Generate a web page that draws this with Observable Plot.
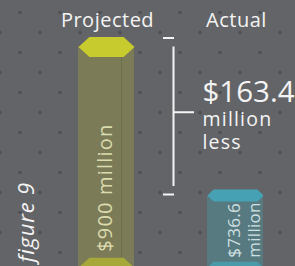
<!DOCTYPE html>
<html>
<head>
<meta charset="utf-8">
<script src="https://cdn.jsdelivr.net/npm/d3@7"></script>
<script src="https://cdn.jsdelivr.net/npm/@observablehq/plot@0.6"></script>
<style>
  html, body { margin: 0; padding: 0; background: #636467; }
  #chart svg {
    display: block;
    overflow: hidden;
    background-color: #636467 !important;
    background-image:
      radial-gradient(circle at 20px 12.5px, #505155 1.5px, rgba(0,0,0,0) 2.1px),
      radial-gradient(circle at 20px 20px, #505155 1.5px, rgba(0,0,0,0) 2.1px) !important;
    background-size: 40px 40px, 40px 40px;
    background-position: 0 0, -20px 12.5px;
  }
</style>
</head>
<body>
<div id="chart"></div>
<script>
// ---- data ----
const categories = ["Projected", "Actual"];
const values = [900, 736.6];               // $ millions
const baseValue = 657;                     // truncated floor of the drawn columns
const valueLabels = ["$900 million", "$736.6\nmillion"];
const differenceUnit = "million\nless";
const figureLabel = "figure 9";

// ---- styles ----
const bodyColor = {Projected: "#7b7b58", Actual: "#577a81"};
const topColor = {Projected: "#c8cb2e", Actual: "#45a1b3"};
const bottomColor = {Projected: "#a6a93a", Actual: "#4a9aa9"};
const labelColor = {Projected: "#dcdcae", Actual: "#cfe0e2"};
const font = "Open Sans, Lato, sans-serif";

const data = categories.map((c, i) => ({category: c, value: values[i], base: baseValue, label: valueLabels[i]}));
const difference = values[0] - values[1];
const mid = (values[0] + values[1]) / 2;
const first = categories[0];

function hex(edge, half) {
  return {
    draw(ctx, size) {
      const r = Math.sqrt(size / Math.PI), e = r * edge, h = r * half;
      ctx.moveTo(-r, 0); ctx.lineTo(-r + e, -h); ctx.lineTo(r - e, -h);
      ctx.lineTo(r, 0); ctx.lineTo(r - e, h); ctx.lineTo(-r + e, h); ctx.closePath();
    }
  };
}
const hexTall = hex(0.39, 0.357);
const hexFlat = hex(0.214, 0.214);
const isP = d => d.category === "Projected";
const isA = d => d.category === "Actual";
const white = "#f4f4f4";

const chart = Plot.plot({
  width: 295,
  height: 266,
  margin: 0,
  style: {fontFamily: font, overflow: "hidden"},
  x: {type: "band", domain: categories, range: [77, 263], paddingInner: 0.5692, paddingOuter: 0, axis: null},
  y: {domain: [values[1], values[0]], range: [195, 46.5], axis: null},
  color: {type: "identity"},
  marks: [
    Plot.barY(data, {x: "category", y1: "base", y2: "value", fill: d => bodyColor[d.category]}),
    Plot.ruleX(data, {filter: isP, x: "category", y1: "base", y2: "value", dx: 15, stroke: "#5f5f45", strokeOpacity: 0.5, strokeWidth: 1}),
    Plot.dot(data, {filter: isP, x: "category", y: "base", r: 28, symbol: hexTall, fill: d => bottomColor[d.category], stroke: null}),
    Plot.dot(data, {filter: isA, x: "category", y: "base", r: 28, symbol: hexFlat, fill: d => bottomColor[d.category], stroke: null}),
    Plot.dot(data, {filter: isP, x: "category", y: "value", r: 28, symbol: hexTall, fill: d => topColor[d.category], stroke: null}),
    Plot.dot(data, {filter: isA, x: "category", y: "value", r: 28, symbol: hexFlat, fill: d => topColor[d.category], stroke: null}),
    Plot.text(data, {filter: isP, x: "category", y: "base", text: "label", rotate: -90, textAnchor: "start", lineAnchor: "middle", dy: -16, dx: -1, fontSize: 20, fill: d => labelColor[d.category]}),
    Plot.text(data, {filter: isA, x: "category", y: "base", text: "label", rotate: -90, textAnchor: "start", lineAnchor: "middle", lineHeight: 1.15, dy: -10, dx: 8, fontSize: 17, fill: d => labelColor[d.category]}),
    Plot.text(categories, {x: d => d, frameAnchor: "top", lineAnchor: "bottom", dy: 26, dx: 1, fontSize: 20, fill: white}),
    Plot.ruleX([first], {x: d => d, y1: values[1], y2: values[0], dx: 67, insetTop: -9, stroke: white, strokeWidth: 2}),
    Plot.tickY([values[0]], {x: () => first, y: d => d, dx: 85, dy: -9, insetRight: 45, stroke: white, strokeWidth: 2}),
    Plot.tickY([values[1]], {x: () => first, y: d => d, dx: 85, dy: -1, insetRight: 45, stroke: white, strokeWidth: 2}),
    Plot.tickY([mid], {x: () => first, y: d => d, dx: 95, dy: -9, insetRight: 35, stroke: white, strokeWidth: 2}),
    Plot.text([difference], {x: () => first, y: () => mid, text: d => "$" + d.toFixed(1), dx: 96, dy: -19.5, textAnchor: "start", lineAnchor: "bottom", fontSize: 29.5, fill: white}),
    Plot.text([differenceUnit], {x: () => first, y: () => mid, text: d => d, dx: 96, dy: 27.25, textAnchor: "start", lineAnchor: "bottom", lineHeight: 1.18, fontSize: 19.5, fill: white}),
    Plot.text([figureLabel], {frameAnchor: "bottom-left", text: d => d, rotate: -90, textAnchor: "start", lineAnchor: "middle", dx: 26, dy: -4, fontSize: 22, fontStyle: "italic", fill: white})
  ]
});

// letter spacing to approximate the wide display face of the original
const spacing = new Map([
  ["Projected", "0.5px"], ["Actual", "0.5px"],
  [valueLabels[0], "1.2px"], [valueLabels[1].replace("\n", ""), "0.3px"],
  [differenceUnit.replace("\n", ""), "1.2px"], [figureLabel, "0.8px"]
]);
d3.select(chart).selectAll("text").each(function () {
  const s = spacing.get(this.textContent);
  if (s) this.style.letterSpacing = s;
});
document.getElementById("chart").appendChild(chart);
</script>
</body>
</html>
